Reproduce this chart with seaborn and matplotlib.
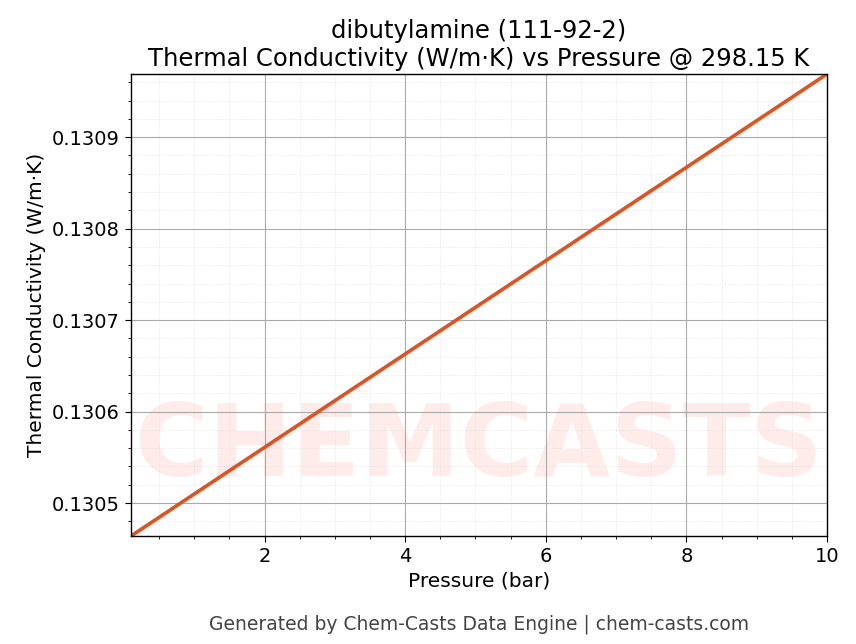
import matplotlib
matplotlib.use("Agg")
import matplotlib.pyplot as plt
import seaborn as sns
import numpy as np
import pandas as pd
from matplotlib.ticker import AutoMinorLocator

pressure = [0.1, 10.0]
conductivity = [0.130464, 0.130969]

sns.set_style("white")
plt.rcParams['font.family'] = ['DejaVu Sans']
plt.rcParams['text.color'] = 'black'
plt.rcParams['axes.labelcolor'] = 'black'
plt.rcParams['xtick.color'] = 'black'
plt.rcParams['ytick.color'] = 'black'
fig = plt.figure(figsize=(8.56, 6.44), dpi=100)
ax = fig.add_axes([131/856, 1-536/644, (827-131)/856, (536-74)/644])

ax.text(0.5, 0.19, "CHEMCASTS", transform=ax.transAxes, ha="center", va="center", fontsize=72,
        fontweight="bold", color="#ff3b2f", alpha=0.1, zorder=0)

df = pd.DataFrame({"p": pressure, "k": conductivity})
sns.lineplot(data=df, x="p", y="k", ax=ax, color="#e0521f", linewidth=2.6)
ax.set_xlim(0.1, 10)
ax.set_ylim(0.130464, 0.130969)
ax.set_xticks([2, 4, 6, 8, 10])
ax.set_yticks([0.1305, 0.1306, 0.1307, 0.1308, 0.1309])
ax.xaxis.set_minor_locator(AutoMinorLocator(4))
ax.yaxis.set_minor_locator(AutoMinorLocator(5))
ax.grid(which="major", color="#aaaaaa", linewidth=0.8)
ax.grid(which="minor", color="#dddddd", linewidth=0.5, linestyle=":")
ax.tick_params(which="both", direction="out", bottom=True, left=True, labelsize=14)
ax.tick_params(which="major", length=4.5)
ax.tick_params(which="minor", length=2.5)
for s in ax.spines.values():
    s.set_color("black"); s.set_linewidth(1)
ax.set_xlabel("Pressure (bar)", fontsize=14.5)
ax.set_ylabel("Thermal Conductivity (W/m·K)", fontsize=14.5)
ax.set_title("dibutylamine (111-92-2)\nThermal Conductivity (W/m·K) vs Pressure @ 298.15 K", fontsize=17.5)
fig.text(0.56, 0.022, "Generated by Chem-Casts Data Engine | chem-casts.com", ha="center",
         fontsize=13.5, color="#444444")
fig.savefig("out.png", dpi=100)
